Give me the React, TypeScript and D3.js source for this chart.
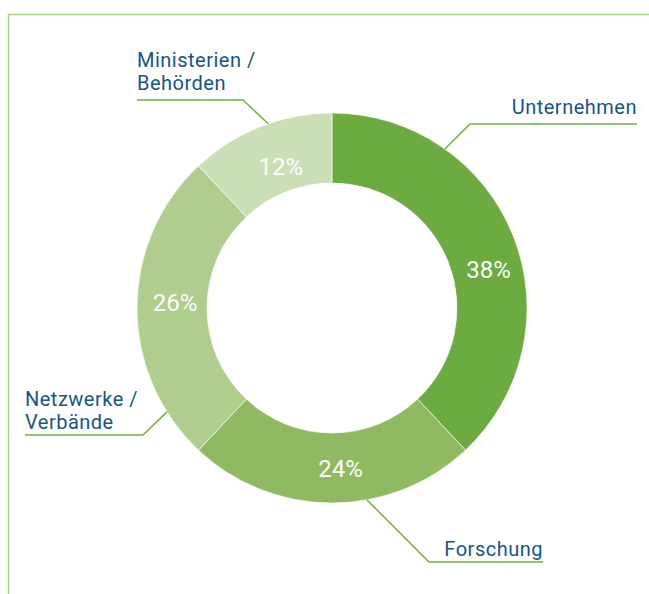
import React from "react";
import * as d3 from "d3";

const categories = ["Unternehmen", "Forschung", "Netzwerke / Verbände", "Ministerien / Behörden"];
const values = [38, 24, 26, 12];
const sliceColors = ["#6cab3f", "#8fba62", "#afcd8d", "#cadfb5"];

const width = 649;
const height = 594;
const cx = 332;
const cy = 308;
const outerR = 195;
const innerR = 125;

const textColor = "#17548a";
const lineColor = "#72b046";
const frameColor = "#a9d184";

// leader lines: angle on the ring (deg from top, clockwise), elbow, end of underline
const leaders = [
  { angle: 35.4, elbow: [470, 124], end: [637, 124], lines: ["Unternehmen"], anchor: "end", tx: 637, ty: 114 },
  { angle: 169.7, elbow: [429, 562], end: [543, 562], lines: ["Forschung"], anchor: "end", tx: 543, ty: 556 },
  { angle: 237.8, elbow: [143, 435], end: [25, 435], lines: ["Netzwerke /", "Verbände"], anchor: "start", tx: 25, ty: 406 },
  { angle: 340.9, elbow: [243, 100], end: [137, 100], lines: ["Ministerien /", "Behörden"], anchor: "start", tx: 137, ty: 67 },
];

// percentage label placement (angle deg, radius)
const pctPos = [
  [76.4, 161],
  [177, 161],
  [272, 157],
  [340, 150],
];

export default function App() {
  const pie = d3.pie<number>().value((d) => d).sort(null);
  const arcs = pie(values);
  const arc = d3.arc<d3.PieArcDatum<number>>().innerRadius(innerR).outerRadius(outerR);

  const polar = (deg: number, r: number) => {
    const a = (deg * Math.PI) / 180;
    return [cx + r * Math.sin(a), cy - r * Math.cos(a)];
  };

  return (
    <svg
      width={width}
      height={height}
      style={{ position: "absolute", left: 0, top: 0, background: "#fff" }}
    >
      {/* frame */}
      <path d={`M8.5,${height} V14.5 H${width}`} fill="none" stroke={frameColor} strokeWidth={1.5} />

      <g transform={`translate(${cx},${cy})`}>
        {arcs.map((a, i) => (
          <path key={i} d={arc(a) || ""} fill={sliceColors[i]} stroke="#fff" strokeWidth={0.6} />
        ))}
      </g>

      {values.map((v, i) => {
        const [x, y] = polar(pctPos[i][0], pctPos[i][1]);
        return (
          <text
            key={i}
            x={x}
            y={y}
            textAnchor="middle"
            dominantBaseline="central"
            fill="#fff"
            fontFamily="Roboto, sans-serif"
            fontSize={24}
          >
            {v}%
          </text>
        );
      })}

      {leaders.map((l, i) => {
        const [sx, sy] = polar(l.angle, outerR);
        return (
          <g key={i}>
            <polyline
              points={`${sx},${sy} ${l.elbow[0]},${l.elbow[1]} ${l.end[0]},${l.end[1]}`}
              fill="none"
              stroke={lineColor}
              strokeWidth={1.5}
            />
            {l.lines.map((t, j) => (
              <text
                key={j}
                x={l.tx}
                y={l.ty + j * 23}
                textAnchor={l.anchor}
                fill={textColor}
                fontFamily="Roboto, sans-serif"
                fontSize={20}
                letterSpacing={0.5}
              >
                {t}
              </text>
            ))}
          </g>
        );
      })}
    </svg>
  );
}
